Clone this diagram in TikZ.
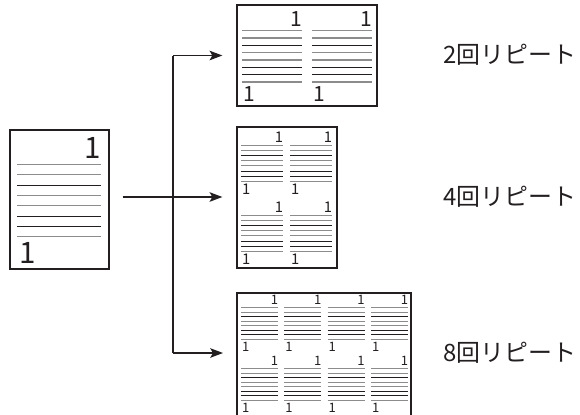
\documentclass[tikz,border=0pt]{standalone}
\usepackage{fontspec}
\setmainfont{Noto Sans CJK JP}
\usepackage{xcolor}
\usepackage{tikz}
\usetikzlibrary{arrows.meta}
\definecolor{RPLine}{HTML}{231F20}
\definecolor{RPGray}{HTML}{8C8C8C}
\tikzset{
  pagebox/.style={draw=RPLine,line width=0.9pt,inner sep=0pt},
  pagenum/.style={inner sep=0pt,text=RPLine,font=\fontsize{21pt}{23pt}\selectfont},
  replabel/.style={anchor=west,inner sep=0pt,text=RPLine,font=\fontsize{17pt}{19pt}\selectfont},
  conn/.style={draw=RPLine,line width=0.8pt,-{Stealth[length=3.2mm,width=2.4mm,inset=0.7mm]}}
}
\newcommand{\RCell}[4]{%
  \begin{scope}[shift={(#2,#3)},scale=#4,transform shape]
    \node[pagenum] (#1-top) at (76,9.5) {1};
    \foreach \k/\c/\w in {0/RPGray/0.85,1/RPGray/0.85,2/RPLine/0.65,3/RPGray/0.85,4/RPGray/0.85,5/RPLine/0.65,6/RPLine/0.65,7/RPGray/0.85}
      \draw[\c,line width=\w pt] (0,26.3+10.34*\k) -- (84,26.3+10.34*\k);
    \node[pagenum] (#1-bot) at (10.5,115) {1};
  \end{scope}}

\begin{document}
\begin{tikzpicture}[x=0.025cm,y=-0.025cm]
\path[use as bounding box] (0,0) rectangle (580,415);
\node[pagebox,minimum width=2.475cm,minimum height=3.475cm] (src) at (59.5,199.5) {};
\RCell{s}{17}{138}{1}
\node[pagebox,minimum width=3.5cm,minimum height=2.525cm] (rep2) at (307,55.5) {};
\RCell{a1}{242}{12}{0.71}
\RCell{a2}{312}{12}{0.71}
\node[pagebox,minimum width=2.5cm,minimum height=3.525cm] (rep4) at (287,197.5) {};
\RCell{b1}{241}{132}{0.5}
\RCell{b2}{290}{132}{0.5}
\RCell{b3}{241}{202}{0.5}
\RCell{b4}{290}{202}{0.5}
\node[pagebox,minimum width=4.35cm,minimum height=3.225cm] (rep8) at (324,357.5) {};
\RCell{c1}{241}{296}{0.44}
\RCell{c2}{284.3}{296}{0.44}
\RCell{c3}{327.6}{296}{0.44}
\RCell{c4}{371}{296}{0.44}
\RCell{c5}{241}{357}{0.44}
\RCell{c6}{284.3}{357}{0.44}
\RCell{c7}{327.6}{357}{0.44}
\RCell{c8}{371}{357}{0.44}
\coordinate (split) at (173,197);
\coordinate (in8) at (237,353);
\draw[conn,shorten <=0.325cm,shorten >=0.35cm] (src.east |- split) -- (rep4.west |- split);
\draw[RPLine,line width=0.8pt] (split |- rep2.west) -- (split |- in8);
\draw[conn,shorten >=0.35cm] (split |- rep2.west) -- (rep2.west);
\draw[conn,shorten >=0.35cm] (split |- in8) -- (in8);
\node[replabel] (lab2) at (443,55) {2回リピート};
\node[replabel] (lab4) at (443,197) {4回リピート};
\node[replabel] (lab8) at (443,353) {8回リピート};
\end{tikzpicture}
\end{document}
